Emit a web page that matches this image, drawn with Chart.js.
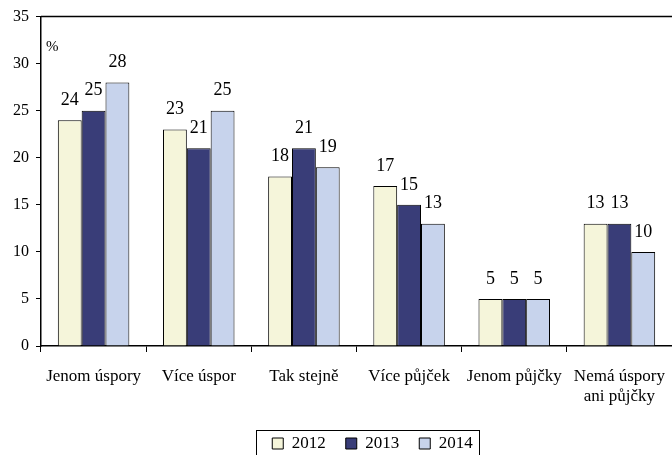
<!DOCTYPE html>
<html>
<head>
<meta charset="utf-8">
<script src="https://cdn.jsdelivr.net/npm/chart.js@4/dist/chart.umd.min.js"></script>
<style>
  html, body { margin: 0; padding: 0; background: #fff; }
  #wrap { width: 672px; height: 455px; }
</style>
</head>
<body>
<div id="wrap"><canvas id="myChart" width="672" height="455"></canvas></div>
<script>
const categories = ['Jenom úspory', 'Více úspor', 'Tak stejně', 'Více půjček', 'Jenom půjčky', ['Nemá úspory', 'ani půjčky']];
const years = ['2012', '2013', '2014'];
const values2012 = [24, 23, 18, 17, 5, 13];
const values2013 = [25, 21, 21, 15, 5, 13];
const values2014 = [28, 25, 19, 13, 5, 10];
const yTicks = [0, 5, 10, 15, 20, 25, 30, 35];

const colors = ['#f5f5da', '#393d78', '#c7d3ec'];
const font = 'Liberation Serif';

// values above bars, "%" sign, frame line at top, box around legend
const extras = {
    id: 'extras',
    afterLayout(chart) {
        // legend sits right of the page centre and lower in the original
        chart.legend.left += 45;
        chart.legend.right += 45;
        chart.legend.top += 7;
        chart.legend.bottom += 7;
    },
    afterDatasetsDraw(chart) {
        const c = chart.ctx;
        c.save();
        c.fillStyle = '#000';
        c.font = '18px "' + font + '"';
        c.textAlign = 'center';
        c.textBaseline = 'bottom';
        chart.data.datasets.forEach((ds, i) => {
            chart.getDatasetMeta(i).data.forEach((bar, j) => {
                c.fillText(ds.data[j], bar.x, bar.y - 11);
            });
        });
        const area = chart.chartArea;
        c.textAlign = 'left';
        c.font = '15px "' + font + '"';
        c.fillText('%', area.left + 5, chart.scales.y.getPixelForValue(31));
        c.strokeStyle = '#000';
        c.lineWidth = 1.5;
        c.beginPath();
        c.moveTo(area.left, area.top);
        c.lineTo(area.right, area.top);
        c.stroke();
        c.restore();
    },
    afterDraw(chart) {
        const boxes = chart.legend.legendHitBoxes;
        if (!boxes || !boxes.length) return;
        const first = boxes[0];
        const c = chart.ctx;
        c.save();
        c.strokeStyle = '#000';
        c.lineWidth = 1;
        c.strokeRect(Math.round(first.left - 16) + 0.5, 430.5, 223, 40);
        c.restore();
    }
};

new Chart(document.getElementById('myChart'), {
    type: 'bar',
    data: {
        labels: categories,
        datasets: [
            { label: years[0], data: values2012 },
            { label: years[1], data: values2013 },
            { label: years[2], data: values2014 }
        ].map((d, i) => Object.assign(d, {
            backgroundColor: colors[i],
            borderColor: '#000',
            borderWidth: 1,
            categoryPercentage: 0.68,
            barPercentage: 1
        }))
    },
    options: {
        responsive: false,
        animation: false,
        layout: { padding: { left: 0, right: 0, top: 12, bottom: 0 } },
        plugins: {
            legend: {
                position: 'bottom',
                labels: {
                    color: '#000',
                    font: { family: font, size: 17 },
                    boxWidth: 11,
                    boxHeight: 11,
                    padding: 3,
                    generateLabels(chart) {
                        const items = Chart.defaults.plugins.legend.labels.generateLabels(chart);
                        items.forEach(it => { it.text = it.text + '    '; });
                        return items;
                    }
                }
            },
            tooltip: { enabled: false }
        },
        scales: {
            x: {
                afterFit(axis) {
                    axis.height = 79;
                    axis.paddingLeft = 0;
                    axis.paddingRight = 0;
                },
                grid: { display: true, drawOnChartArea: false, drawTicks: true, tickLength: 6, color: '#000' },
                border: { display: true, color: '#000', width: 1.5 },
                ticks: { color: '#000', font: { family: font, size: 17 }, padding: 14, maxRotation: 0, autoSkip: false }
            },
            y: {
                min: 0,
                max: 35,
                afterFit(axis) { axis.width = 41; },
                afterBuildTicks(axis) { axis.ticks = yTicks.map(v => ({ value: v })); },
                grid: { display: true, drawOnChartArea: false, drawTicks: true, tickLength: 5, color: '#000' },
                border: { display: true, color: '#000', width: 1.5 },
                ticks: { color: '#000', font: { family: font, size: 16 }, padding: 7 }
            }
        }
    },
    plugins: [extras]
});
</script>
</body>
</html>
